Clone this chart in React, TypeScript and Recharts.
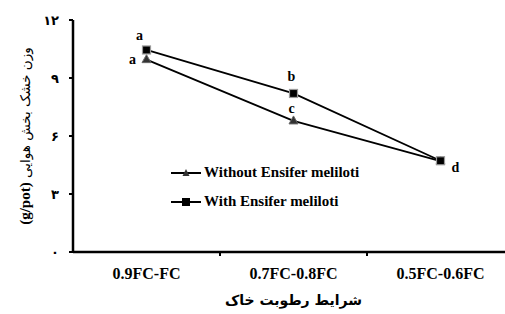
import React from "react";
import { LabelList, Line, LineChart, XAxis, YAxis } from "recharts";

const categories = ["0.9FC-FC", "0.7FC-0.8FC", "0.5FC-0.6FC"];
const withoutEnsifer = [9.95, 6.78, 4.7];
const withEnsifer = [10.45, 8.2, 4.72];
const withoutLetters = ["a", "c", ""];
const withLetters = ["a", "b", "d"];
const yTicks = [0, 3, 6, 9, 12];

const data = categories.map((c, i) => ({
  cat: c,
  without: withoutEnsifer[i],
  with: withEnsifer[i],
}));

const toFa = (n: number) => String(n).replace(/\d/g, (d) => "۰۱۲۳۴۵۶۷۸۹"[+d]);
const serif = "'Liberation Serif', 'DejaVu Serif', serif";
const fa = "'DejaVu Sans', 'Noto Sans', sans-serif";

function Tri({ cx, cy }: any) {
  return <path d={`M${cx},${cy - 5} L${cx + 4.5},${cy + 3} L${cx - 4.5},${cy + 3} Z`} fill="#333" stroke="#666" strokeWidth={1} />;
}
function Sq({ cx, cy }: any) {
  return <rect x={cx - 4} y={cy - 4} width={8} height={8} fill="#000" stroke="#999" strokeWidth={1.2} />;
}

function XTick({ x, y, payload, index }: any) {
  const half = 441 / 3 / 2;
  return (
    <g>
      {index < 2 && <line x1={x + half} x2={x + half} y1={y - 8} y2={y - 4} stroke="#000" strokeWidth={2} />}
      <text x={x} y={y + 19} textAnchor="middle" fontFamily={serif} fontWeight="bold" fontSize={16} fill="#000">
        {payload.value}
      </text>
    </g>
  );
}

function YLabel({ viewBox }: any) {
  const cx = 25;
  const cy = viewBox.y + viewBox.height / 2;
  return (
    <text x={cx} y={cy} transform={`rotate(-90 ${cx} ${cy})`} textAnchor="middle" dominantBaseline="central" fill="#000" fontSize={13.5}>
      <tspan fontFamily={serif} fontWeight="bold" fontSize={15}>(g/pot)</tspan>
      <tspan fontFamily={fa}> وزن خشک بخش هوایی</tspan>
    </text>
  );
}

function letterLabel(letters: string[], offsets: [number, number][]) {
  return (props: any) => {
    const { x, y, index } = props;
    const t = letters[index];
    if (!t) return null;
    const [dx, dy] = offsets[index];
    return (
      <text x={x + dx} y={y + dy} textAnchor="middle" fontFamily={serif} fontWeight="bold" fontSize={14} fill="#000">
        {t}
      </text>
    );
  };
}

function LegendBox() {
  const row = (label: string, marker: React.ReactNode) => (
    <div style={{ display: "flex", alignItems: "center", height: 29 }}>
      <svg width={32} height={12}>
        <line x1={1} x2={31} y1={6} y2={6} stroke="#000" strokeWidth={2} />
        {marker}
      </svg>
      <span style={{ fontFamily: serif, fontWeight: "bold", fontSize: 15, marginLeft: 2 }}>{label}</span>
    </div>
  );
  return (
    <div style={{ position: "absolute", left: 170, top: 158 }}>
      {row("Without Ensifer meliloti", <path d="M16,2 L19.5,9 L12.5,9 Z" fill="#333" />)}
      {row("With Ensifer meliloti", <rect x={12} y={2} width={8} height={8} fill="#000" />)}
    </div>
  );
}

export default function App() {
  return (
    <div style={{ position: "absolute", left: 0, top: 0, width: 505, height: 314, overflow: "hidden", background: "#fff" }}>
      <LineChart width={520} height={314} data={data} margin={{ top: 20, right: 6, bottom: 0, left: 0 }}>
        <XAxis
          dataKey="cat"
          height={62}
          padding={{ left: 73.5, right: 73.5 }}
          axisLine={{ stroke: "#000", strokeWidth: 2.5 }}
          tickLine={false}
          tick={<XTick />}
          interval={0}
          label={{
            value: "شرایط رطوبت خاک",
            position: "insideBottom",
            offset: 9,
            style: { fontFamily: fa, fontWeight: "bold", fontSize: 14, fill: "#000" },
          }}
        />
        <YAxis
          width={73}
          domain={[0, 12]}
          ticks={yTicks}
          tickFormatter={toFa}
          axisLine={{ stroke: "#000", strokeWidth: 2.5 }}
          tickLine={{ stroke: "#000", strokeWidth: 2 }}
          tickSize={4}
          tickMargin={10}
          tick={{ fontFamily: fa, fontWeight: "bold", fontSize: 13, fill: "#000" }}
          label={<YLabel />}
        />
        <Line
          dataKey="without"
          stroke="#000"
          strokeWidth={1.8}
          dot={<Tri />}
          isAnimationActive={false}
        >
          <LabelList dataKey="without" content={letterLabel(withoutLetters, [[-14, 4], [-2, -8], [0, 0]])} />
        </Line>
        <Line
          dataKey="with"
          stroke="#000"
          strokeWidth={1.8}
          dot={<Sq />}
          isAnimationActive={false}
        >
          <LabelList dataKey="with" content={letterLabel(withLetters, [[-7, -10], [-2, -12], [15, 11]])} />
        </Line>
      </LineChart>
      <LegendBox />
    </div>
  );
}
